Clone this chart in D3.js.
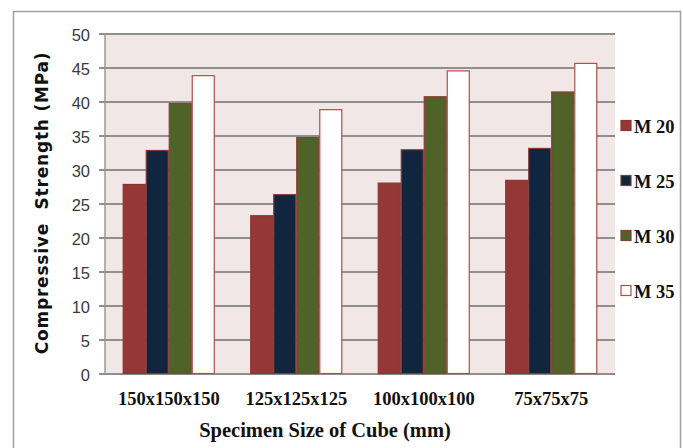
<!DOCTYPE html>
<html>
<head>
<meta charset="utf-8">
<script src="https://cdn.jsdelivr.net/npm/d3@7/dist/d3.min.js"></script>
<style>
  html, body { margin: 0; padding: 0; background: #ffffff; }
  svg { display: block; }
</style>
</head>
<body>
<svg id="chart" width="683" height="448"></svg>
<script>
// Cube sizes on the x axis
const categories = ["150x150x150", "125x125x125", "100x100x100", "75x75x75"];
// Concrete grades (legend)
const grades = ["M 20", "M 25", "M 30", "M 35"];
// Compressive strength (MPa) per grade, one value per cube size
const m20 = [27.8, 23.2, 28.0, 28.4];
const m25 = [32.8, 26.3, 32.9, 33.1];
const m30 = [39.7, 34.7, 40.7, 41.4];
const m35 = [43.8, 38.8, 44.5, 45.6];
const yTicks = [0, 5, 10, 15, 20, 25, 30, 35, 40, 45, 50];

const seriesValues = [m20, m25, m30, m35];
const fills = ["#953735", "#12253F", "#4F6228", "#FFFFFF"];
const strokes = ["#8E3533", "#7E3A3A", "#8E3A36", "#B04E4C"];

const svg = d3.select("#chart");

// Outer chart frame
svg.append("rect")
  .attr("x", 13.5).attr("y", 11.5)
  .attr("width", 667).attr("height", 460)
  .attr("fill", "#ffffff")
  .attr("stroke", "#a0a0a0").attr("stroke-width", 1.5);

const plot = { left: 105, right: 615, top: 33.5, bottom: 373.5 };

const x = d3.scaleBand()
  .domain(categories)
  .range([plot.left, plot.right])
  .paddingInner(0.278)
  .paddingOuter(0.139);

const xs = d3.scaleBand()
  .domain(grades)
  .range([0, x.bandwidth()]);

const y = d3.scaleLinear()
  .domain([0, 50])
  .range([plot.bottom, plot.top]);

// Plot area background
svg.append("rect")
  .attr("x", plot.left).attr("y", plot.top)
  .attr("width", plot.right - plot.left)
  .attr("height", plot.bottom - plot.top)
  .attr("fill", "#F2E7E7");

// Horizontal gridlines with tick stubs, via the left axis
const yAxis = d3.axisLeft(y)
  .tickValues(yTicks)
  .tickSize(-(plot.right - plot.left))
  .tickPadding(15)
  .tickFormat(d3.format("d"));

const gy = svg.append("g")
  .attr("transform", `translate(${plot.left},0)`)
  .call(yAxis);
gy.select(".domain").remove();
gy.selectAll(".tick line")
  .attr("x1", -6)
  .attr("stroke", "#8f8f8f")
  .attr("stroke-width", 1.8);
gy.selectAll(".tick text")
  .attr("fill", "#3a3a3a")
  .attr("font-family", "'Liberation Sans', Arial, sans-serif")
  .attr("font-size", 16.5)
  .attr("dy", "0.4em");

// Vertical axis line
svg.append("line")
  .attr("x1", plot.left).attr("x2", plot.left)
  .attr("y1", plot.top).attr("y2", plot.bottom)
  .attr("stroke", "#9a9a9a").attr("stroke-width", 1.5);

// Bars
const groups = svg.append("g").selectAll("g")
  .data(categories)
  .join("g")
  .attr("transform", d => `translate(${x(d)},0)`);

groups.selectAll("rect")
  .data((d, i) => grades.map((g, k) => ({ grade: g, k, value: seriesValues[k][i] })))
  .join("rect")
  .attr("x", d => xs(d.grade) + 0.5)
  .attr("y", d => y(d.value))
  .attr("width", xs.bandwidth() - 1)
  .attr("height", d => y(0) - y(d.value))
  .attr("fill", d => fills[d.k])
  .attr("stroke", d => strokes[d.k])
  .attr("stroke-width", 1.2);

// Category labels
const xAxis = d3.axisBottom(x).tickSize(0).tickPadding(18);
const gx = svg.append("g")
  .attr("transform", `translate(0,${plot.bottom})`)
  .call(xAxis);
gx.select(".domain").remove();
gx.selectAll(".tick text")
  .attr("fill", "#111")
  .attr("font-family", "'Liberation Serif', 'Times New Roman', serif")
  .attr("font-weight", "bold")
  .attr("font-size", 18.5);

// Axis titles
svg.append("text")
  .attr("x", 325).attr("y", 437)
  .attr("text-anchor", "middle")
  .attr("font-family", "'Liberation Serif', 'Times New Roman', serif")
  .attr("font-weight", "bold")
  .attr("font-size", 20.5)
  .attr("fill", "#111")
  .text("Specimen Size of Cube (mm)");

svg.append("text")
  .attr("transform", "translate(48,203) rotate(-90)")
  .attr("text-anchor", "middle")
  .attr("font-family", "'DejaVu Sans', Verdana, sans-serif")
  .attr("font-weight", "bold")
  .attr("font-size", 17)
  .attr("letter-spacing", 0.8)
  .attr("fill", "#111")
  .attr("xml:space", "preserve")
  .style("white-space", "pre")
  .text("Compressive  Strength (MPa)");

// Legend
const legend = svg.append("g").selectAll("g")
  .data(grades)
  .join("g")
  .attr("transform", (d, i) => `translate(621,${120.5 + i * 55})`);

legend.append("rect")
  .attr("width", 10).attr("height", 10)
  .attr("fill", (d, i) => fills[i])
  .attr("stroke", (d, i) => strokes[i])
  .attr("stroke-width", 1.2);

legend.append("text")
  .attr("x", 13).attr("y", 12)
  .attr("font-family", "'Liberation Serif', 'Times New Roman', serif")
  .attr("font-weight", "bold")
  .attr("font-size", 18.5)
  .attr("fill", "#111")
  .text(d => d);
</script>
</body>
</html>
